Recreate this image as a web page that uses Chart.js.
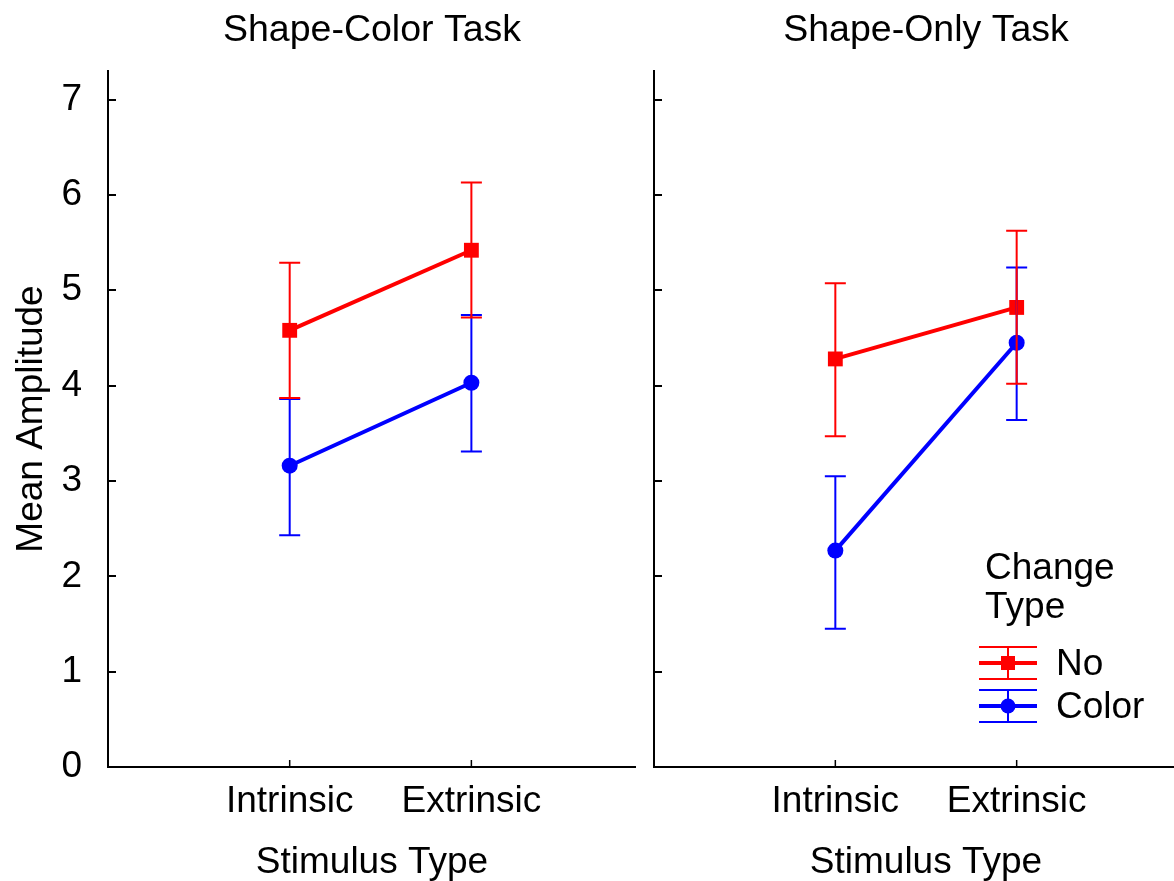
<!DOCTYPE html>
<html><head><meta charset="utf-8">
<script src="https://cdn.jsdelivr.net/npm/chart.js@4.4.0/dist/chart.umd.min.js"></script>
<style>
html,body{margin:0;padding:0;background:#fff;overflow:hidden;width:1174px;height:881px;}
#wrap{position:relative;width:1174px;height:881px;overflow:hidden;background:#fff;}
#c1{position:absolute;left:0;top:0;}
#c2{position:absolute;left:640px;top:0;}
</style></head><body>
<div id="wrap">
<canvas id="c1" width="636" height="886"></canvas>
<canvas id="c2" width="558" height="886"></canvas>
</div>
<script>
// ---- data ----
const panelTitles = ['Shape-Color Task', 'Shape-Only Task'];
const categories = ['Intrinsic', 'Extrinsic'];
const categoryPositions = [1, 2];
const seriesNames = ['No', 'Color'];
const yTickValues = [0, 1, 2, 3, 4, 5, 6, 7];
const yTickLabels = ['0', '1', '2', '3', '4', '5', '6', '7'];
const xAxisTitle = 'Stimulus Type';
const yAxisTitle = 'Mean Amplitude';
const legendTitle = ['Change', 'Type'];

// Shape-Color Task
const scNoMean = [4.58, 5.42];
const scNoLow = [3.87, 4.715];
const scNoHigh = [5.29, 6.13];
const scColorMean = [3.16, 4.03];
const scColorLow = [2.43, 3.31];
const scColorHigh = [3.86, 4.74];

// Shape-Only Task
const soNoMean = [4.28, 4.82];
const soNoLow = [3.47, 4.02];
const soNoHigh = [5.075, 5.625];
const soColorMean = [2.27, 4.45];
const soColorLow = [1.45, 3.64];
const soColorHigh = [3.05, 5.24];

const RED = '#ff0000', BLUE = '#0000ff';
const FONT = "'Liberation Sans', Arial, sans-serif";
const FS = 37;
Chart.defaults.font.family = FONT;
Chart.defaults.color = '#000';

const errorBars = {
  id: 'errorBars',
  afterDatasetsDraw(chart) {
    const {ctx, scales: {x, y}} = chart;
    for (let d = chart.data.datasets.length - 1; d >= 0; d--) {
      const ds = chart.data.datasets[d];
      ctx.save();
      ctx.strokeStyle = ds.borderColor;
      ctx.lineWidth = 2;
      ds.data.forEach((p, i) => {
        const px = x.getPixelForValue(p.x);
        const yl = y.getPixelForValue(ds.errLow[i]);
        const yh = y.getPixelForValue(ds.errHigh[i]);
        ctx.beginPath();
        ctx.moveTo(px, yl); ctx.lineTo(px, yh);
        ctx.moveTo(px - 10.5, yl); ctx.lineTo(px + 10.5, yl);
        ctx.moveTo(px - 10.5, yh); ctx.lineTo(px + 10.5, yh);
        ctx.stroke();
      });
      ctx.restore();
    }
  }
};

const innerTicks = {
  id: 'innerTicks',
  afterDraw(chart) {
    const {ctx, chartArea, scales: {x, y}} = chart;
    ctx.save();
    ctx.strokeStyle = '#000';
    ctx.lineWidth = 2;
    ctx.beginPath();
    y.ticks.forEach(t => {
      const py = Math.round(y.getPixelForValue(t.value));
      ctx.moveTo(chartArea.left, py); ctx.lineTo(chartArea.left + 8, py);
    });
    ctx.stroke();
    ctx.lineWidth = 1.5;
    ctx.beginPath();
    x.ticks.forEach(t => {
      const px = x.getPixelForValue(t.value);
      ctx.moveTo(px, chartArea.bottom); ctx.lineTo(px, chartArea.bottom - 7);
    });
    ctx.stroke();
    ctx.restore();
  }
};

const legendPlugin = {
  id: 'customLegend',
  afterDraw(chart) {
    const {ctx, chartArea} = chart;
    const lx = chartArea.left + 325; // left of legend block
    ctx.save();
    ctx.fillStyle = '#000';
    ctx.font = FS + 'px ' + FONT;
    ctx.textBaseline = 'middle';
    ctx.textAlign = 'left';
    ctx.fillText(legendTitle[0], lx + 6, 569);
    ctx.fillText(legendTitle[1], lx + 6, 608);
    const items = [
      {name: seriesNames[0], color: RED, style: 'rect', cy: 663},
      {name: seriesNames[1], color: BLUE, style: 'circle', cy: 706}
    ];
    items.forEach(it => {
      ctx.strokeStyle = it.color;
      ctx.lineWidth = 2;
      ctx.beginPath();
      ctx.moveTo(lx, it.cy - 16); ctx.lineTo(lx + 58, it.cy - 16);
      ctx.moveTo(lx, it.cy + 16); ctx.lineTo(lx + 58, it.cy + 16);
      ctx.moveTo(lx + 29, it.cy - 16); ctx.lineTo(lx + 29, it.cy + 16);
      ctx.stroke();
      ctx.lineWidth = 4;
      ctx.beginPath();
      ctx.moveTo(lx, it.cy); ctx.lineTo(lx + 58, it.cy);
      ctx.stroke();
      ctx.fillStyle = it.color;
      if (it.style === 'rect') {
        ctx.fillRect(lx + 29 - 7, it.cy - 7, 14, 14);
      } else {
        ctx.beginPath(); ctx.arc(lx + 29, it.cy, 7.5, 0, Math.PI * 2); ctx.fill();
      }
      ctx.fillStyle = '#000';
      ctx.fillText(it.name, lx + 77, it.cy + 2);
    });
    ctx.restore();
  }
};

function makePanel(canvasId, title, noMean, noLow, noHigh, colMean, colLow, colHigh, opts) {
  const toPts = arr => categoryPositions.map((x, i) => ({x: x, y: arr[i]}));
  const plugins = [errorBars, innerTicks];
  if (opts.legend) plugins.push(legendPlugin);
  return new Chart(document.getElementById(canvasId), {
    type: 'line',
    data: {
      datasets: [
        {label: seriesNames[0], data: toPts(noMean), errLow: noLow, errHigh: noHigh,
         borderColor: RED, backgroundColor: RED, borderWidth: 4,
         pointStyle: 'rect', pointRadius: 10.5, pointBorderWidth: 0, pointHoverRadius: 10.5},
        {label: seriesNames[1], data: toPts(colMean), errLow: colLow, errHigh: colHigh,
         borderColor: BLUE, backgroundColor: BLUE, borderWidth: 4,
         pointStyle: 'circle', pointRadius: 8, pointBorderWidth: 0, pointHoverRadius: 8}
      ]
    },
    options: {
      responsive: false,
      animation: false,
      events: [],
      layout: {padding: 0, autoPadding: false},
      plugins: {
        legend: {display: false},
        tooltip: {enabled: false},
        title: {display: true, text: title, fullSize: false,
                font: {size: 37.5, weight: 'normal'}, color: '#000',
                padding: {top: 8, bottom: 18}}
      },
      scales: {
        x: {
          type: 'linear', min: 0, max: opts.xMax,
          grid: {display: false, drawTicks: false},
          border: {display: true, color: '#000', width: 2},
          afterBuildTicks: s => { s.ticks = categoryPositions.map(v => ({value: v})); },
          afterFit: s => { s.height = 119; },
          ticks: {font: {size: FS}, color: '#000', padding: 13, maxRotation: 0,
                  callback: v => categories[categoryPositions.indexOf(v)]},
          title: {display: true, text: xAxisTitle, font: {size: FS}, color: '#000', padding: {top: 0, bottom: 1}}
        },
        y: {
          type: 'linear', min: 0, max: 7.3,
          grid: {display: false, drawTicks: false},
          border: {display: true, color: '#000', width: 2},
          afterBuildTicks: s => { s.ticks = yTickValues.map(v => ({value: v})); },
          afterFit: s => { s.width = opts.yWidth; },
          ticks: {display: opts.yLabels, font: {size: FS}, color: '#000', padding: 26,
                  callback: v => yTickLabels[yTickValues.indexOf(v)]},
          title: {display: opts.yLabels, text: yAxisTitle, font: {size: FS}, color: '#000', padding: {top: 10, bottom: 0}}
        }
      }
    },
    plugins: plugins
  });
}

makePanel('c1', panelTitles[0], scNoMean, scNoLow, scNoHigh, scColorMean, scColorLow, scColorHigh,
  {xMax: 2.906, yWidth: 108, yLabels: true, legend: false});
makePanel('c2', panelTitles[1], soNoMean, soNoLow, soNoHigh, soColorMean, soColorLow, soColorHigh,
  {xMax: 3, yWidth: 14, yLabels: false, legend: true});
</script>
</body></html>
